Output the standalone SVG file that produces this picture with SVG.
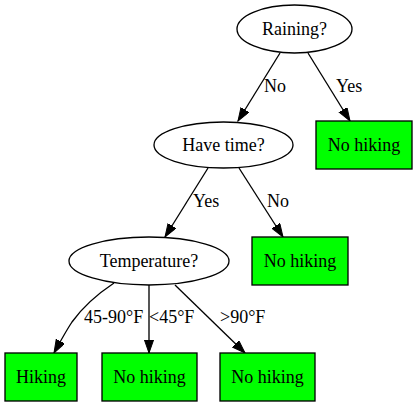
<svg xmlns="http://www.w3.org/2000/svg" width="417" height="407" viewBox="0 0 417 407">
<style>
.n{fill:none;stroke:#000;stroke-width:1.33}
.b{fill:#00ff00;stroke:#000;stroke-width:1.33}
text{font-family:"Liberation Serif","Times New Roman",serif;font-size:18px;fill:#000}
.c{text-anchor:middle}
.e{fill:none;stroke:#000;stroke-width:1.33;marker-end:url(#ah)}
</style>
<defs>
<marker id="ah" markerUnits="userSpaceOnUse" markerWidth="14" markerHeight="10" refX="13.3" refY="4.67" orient="auto" viewBox="0 0 14 10">
<path d="M0,0 L13.3,4.67 L0,9.33 z" fill="#000" stroke="#000" stroke-width="1"/>
</marker>
</defs>
<rect width="417" height="407" fill="#fff"/>
<g id="edges">
<path class="e" d="M280,53 L238,121"/>
<text x="264" y="92">No</text>
<path class="e" d="M308,53 L350,121"/>
<text x="336" y="92">Yes</text>
<path class="e" d="M208,168 L165,237"/>
<text x="193" y="207">Yes</text>
<path class="e" d="M239,168 L283,237"/>
<text x="267" y="207">No</text>
<path class="e" d="M114,283 C96,295 82,308 72,322 C66,331 60,342 54,353"/>
<text x="84" y="323">45-90°F</text>
<path class="e" d="M149,285 L149,353"/>
<text x="149" y="323">&lt;45°F</text>
<path class="e" d="M175,285 L245,353"/>
<text x="220" y="323">&gt;90°F</text>
</g>
<g id="raining">
<ellipse class="n" cx="294.5" cy="29" rx="57.5" ry="24"/>
<text class="c" x="294.5" y="35">Raining?</text>
</g>
<g id="havetime">
<ellipse class="n" cx="223.5" cy="145" rx="69.5" ry="23"/>
<text class="c" x="223.5" y="151">Have time?</text>
</g>
<g id="nohiking1">
<rect class="b" x="316" y="121" width="96" height="48"/>
<text class="c" x="364" y="151">No hiking</text>
</g>
<g id="temperature">
<ellipse class="n" cx="149" cy="261" rx="80" ry="24"/>
<text class="c" x="149" y="267">Temperature?</text>
</g>
<g id="nohiking2">
<rect class="b" x="252" y="237" width="96" height="48"/>
<text class="c" x="300" y="267">No hiking</text>
</g>
<g id="hiking">
<rect class="b" x="5" y="353" width="72" height="48"/>
<text class="c" x="41" y="383">Hiking</text>
</g>
<g id="nohiking3">
<rect class="b" x="102" y="353" width="95" height="48"/>
<text class="c" x="149.5" y="383">No hiking</text>
</g>
<g id="nohiking4">
<rect class="b" x="220" y="353" width="95" height="48"/>
<text class="c" x="267.5" y="383">No hiking</text>
</g>
</svg>
